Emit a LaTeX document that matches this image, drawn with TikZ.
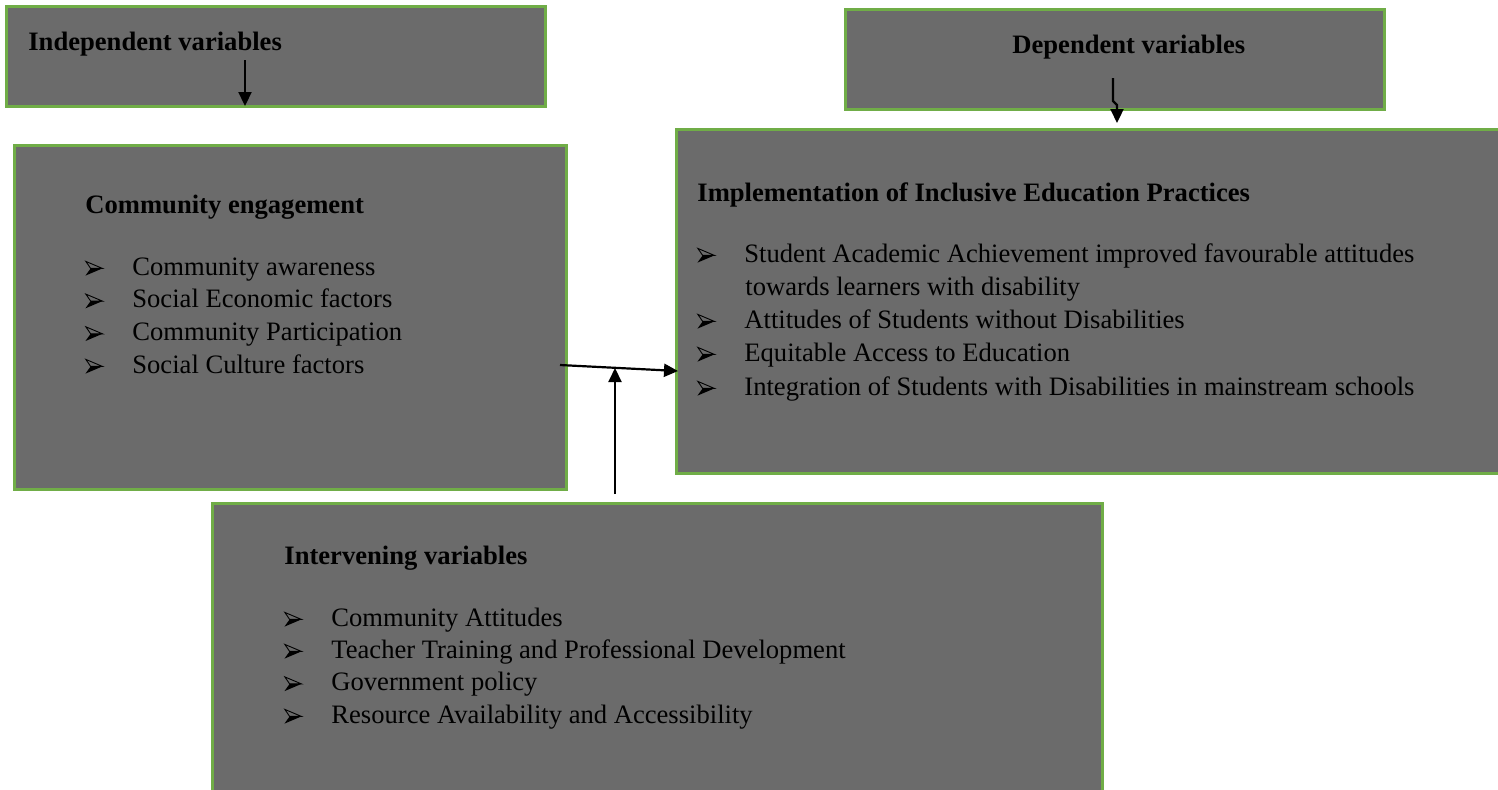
\documentclass[tikz,border=0pt]{standalone}
\usepackage{fontspec}
\setmainfont{Liberation Serif}
\usetikzlibrary{arrows.meta}

\definecolor{boxgray}{HTML}{6B6B6B}
\definecolor{boxgreen}{HTML}{70AD47}
% 3D arrowhead bullet with a fixed gap before the item text
\newcommand{\bul}{\makebox[23.5pt][l]{\tikz[x=1pt,y=1pt,baseline=0pt]{%
  \fill[black] (0,-0.3) -- (8.5,3.3) -- (2.6,3.3) -- cycle;
  \draw[black,line width=0.45pt,line join=miter] (0.2,6.8) -- (8.5,3.3) -- (2.6,3.3) -- cycle;}}}

\begin{document}
\begin{tikzpicture}
  [x=0.5pt,y=-0.5pt,
  box/.style={draw=boxgreen,fill=boxgray,line width=1.5pt,inner sep=0pt},
  head/.style={anchor=base west,inner sep=0pt,font=\fontsize{13.3}{16}\selectfont\bfseries},
  item/.style={anchor=base west,inner sep=0pt,font=\fontsize{13.3}{16}\selectfont},
  arr/.style={-{Triangle[length=7pt,width=6.5pt]},line width=1.1pt}]
  \clip (0,0) rectangle (1498,789);

  % boxes
  \node[box,minimum width=269.5pt,minimum height=50pt] (indep) at (275.5,56) {};
  \node[box,minimum width=269.5pt,minimum height=50pt] (dep) at (1114.5,59) {};
  \node[box,minimum width=276pt,minimum height=172pt] (comm) at (290,317) {};
  \node[box,minimum width=417pt,minimum height=172pt] (impl) at (1093,301) {};
  \node[box,minimum width=445pt,minimum height=153.5pt] (interv) at (657,656.5) {};

  % titles
  \node[head] (indeptxt) at (28,50) {Independent variables};
  \node[head] (deptxt) at (1012,53) {Dependent variables};

  % community engagement
  \node[head] (c0) at (85,213) {Community engagement};
  \node[item] (c1) at (85,275) {\bul Community awareness};
  \node[item] (c2) at (85,307.7) {\bul Social Economic factors};
  \node[item] (c3) at (85,340.4) {\bul Community Participation};
  \node[item] (c4) at (85,373) {\bul Social Culture factors};

  % inclusive education practices
  \node[head] (i0) at (697,201) {Implementation of Inclusive Education Practices};
  \node[item] (i1) at (697,262) {\bul Student Academic Achievement improved favourable attitudes};
  \node[item] (i1b) at (745,295) {towards learners with disability};
  \node[item] (i2) at (697,328) {\bul Attitudes of Students without Disabilities};
  \node[item] (i3) at (697,361) {\bul Equitable Access to Education};
  \node[item] (i4) at (697,395) {\bul Integration of Students with Disabilities in mainstream schools};

  % intervening variables
  \node[head] (v0) at (284,564) {Intervening variables};
  \node[item] (v1) at (284,626) {\bul Community Attitudes};
  \node[item] (v2) at (284,658) {\bul Teacher Training and Professional Development};
  \node[item] (v3) at (284,690.5) {\bul Government policy};
  \node[item] (v4) at (284,723) {\bul Resource Availability and Accessibility};

  % arrows
  \coordinate (ia) at (245,60);
  \coordinate (ib) at (245,106);
  \coordinate (da) at (1113,78);
  \coordinate (db) at (1117,123);
  \coordinate (ha) at (560,365);
  \coordinate (hb) at (678,371);
  \coordinate (va) at (615,494);
  \coordinate (vb) at (615,368);
  \draw[arr] (ia) -- (ib);
  \draw[arr] (da) -- ++(0,23) -- ++(4,4) -- (db);
  \draw[arr] (ha) -- (hb);
  \draw[arr] (va) -- (vb);
\end{tikzpicture}
\end{document}
